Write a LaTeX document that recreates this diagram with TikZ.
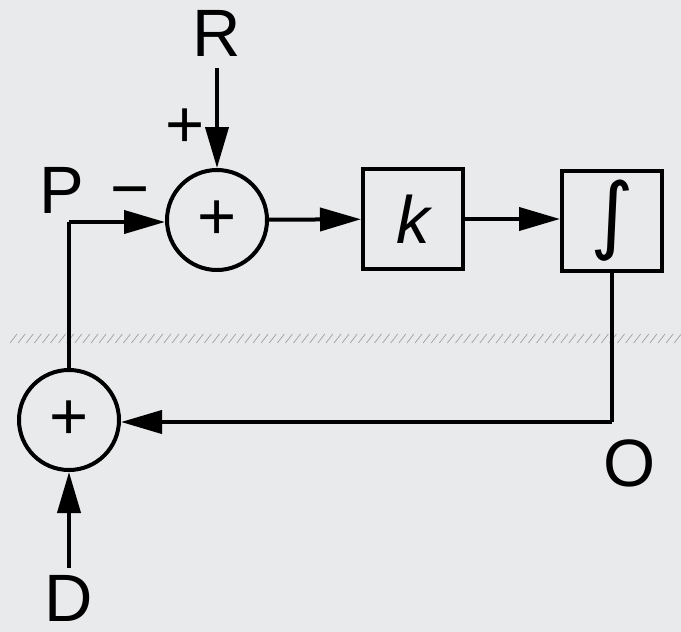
\documentclass[tikz,border=0pt]{standalone}
\usepackage{fontspec}
\setmainfont{Liberation Sans}
\newfontfamily\intfont{DejaVu Sans}
\usetikzlibrary{arrows.meta}
\definecolor{bgc}{RGB}{233,234,236}
\begin{document}
\begin{tikzpicture}[x=1pt,y=-1pt,
  lbl/.style={font=\fontsize{67}{70}\selectfont, inner sep=0pt},
  summer/.style={draw, circle, line width=4pt, minimum size=100pt, inner sep=0pt, font=\fontsize{67}{70}\selectfont},
  block/.style={draw, rectangle, line width=4pt, minimum width=100pt, minimum height=100pt, inner sep=0pt},
  wire/.style={line width=4pt},
  sig/.style={line width=4pt, -{Triangle[length=41pt,width=23pt]}},
  hatch/.style={line width=0.7pt, gray!75}]
\fill[bgc] (0,0) rectangle (681,632);
\useasboundingbox (0,0) rectangle (681,632);
% hatched line
\foreach \i in {0,...,83} {
  \draw[hatch] (10+8.1*\i,343) -- ++(7,-9);
}
\node[summer] (s1) at (217,220) {+};
\node[summer] (s2) at (69,420) {+};
\node[block, font=\fontsize{67}{70}\selectfont\itshape] (kb) at (413,219) {k};
\node[block, font=\fontsize{84}{90}\selectfont\intfont] (ib) at (612,221) {∫};
\coordinate (rin) at (217,68);
\coordinate (din) at (69,568);
\coordinate (c1) at (69,222);
\coordinate (c2) at (612,422);
\node[lbl] (R) at (217,33) {R};
\node[lbl] (pl) at (185,128) {+};
\node[lbl] (P) at (62,190) {P};
\node[lbl] (mi) at (130,199) {−};
\node[lbl] (O) at (630,463) {O};
\node[lbl] (D) at (69,598) {D};
\draw[sig] (rin) -- (s1.north);
\draw[sig] (s1) -- (kb);
\draw[sig] (kb) -- (ib.west |- kb);
\draw[wire] (ib.south) -- (c2);
\draw[sig] (c2) -- (s2.east |- c2);
\draw[sig] (din) -- (s2.south);
\draw[wire] (s2.north) -- (c1);
\draw[sig] (c1) -- (s1.west |- c1);
\end{tikzpicture}
\end{document}
